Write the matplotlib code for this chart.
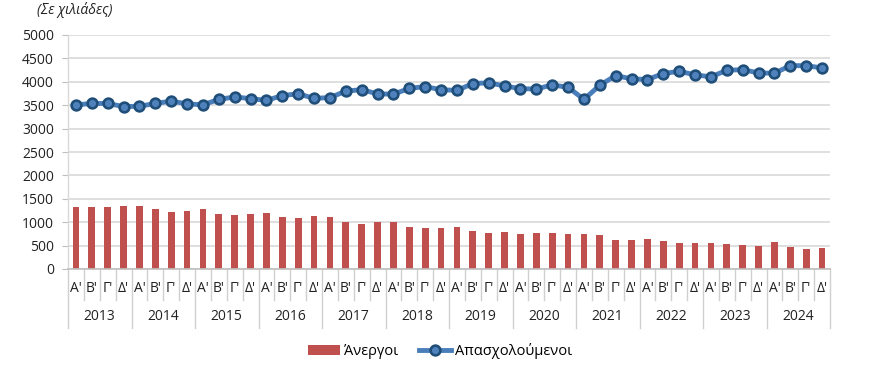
import matplotlib
matplotlib.use("Agg")
import matplotlib.pyplot as plt
from matplotlib.patches import Patch
from matplotlib.lines import Line2D

years = ["2013", "2014", "2015", "2016", "2017", "2018",
         "2019", "2020", "2021", "2022", "2023", "2024"]
quarters = ["Α'", "Β'", "Γ'", "Δ'"]

unemployed = [1332, 1332, 1332, 1346, 1346, 1275, 1225, 1246,
              1275, 1175, 1154, 1175, 1197, 1104, 1090, 1125,
              1110, 1011, 969, 1004, 1004, 905, 869, 876,
              905, 805, 776, 783, 748, 769, 762, 755,
              748, 726, 612, 620, 648, 591, 556, 556,
              548, 534, 513, 491, 577, 470, 427, 449]

employed = [3507, 3537, 3537, 3471, 3478, 3537, 3588, 3529,
            3507, 3625, 3676, 3640, 3603, 3706, 3743, 3647,
            3662, 3801, 3831, 3743, 3735, 3860, 3897, 3831,
            3816, 3963, 3978, 3912, 3853, 3846, 3934, 3882,
            3625, 3926, 4134, 4063, 4049, 4176, 4225, 4148,
            4106, 4246, 4260, 4190, 4183, 4345, 4345, 4296]

yticks = list(range(0, 5001, 500))

plt.rcParams['font.family'] = ['Open Sans', 'DejaVu Sans']

fig = plt.figure(figsize=(8.69, 3.86), dpi=100)
ax = fig.add_axes([68/869, 1-269/386, (830-68)/869, (269-35)/386])

n = len(unemployed)
x = list(range(n))
bar_color = '#C0504D'
line_color = '#4A7EBB'

ax.bar(x, unemployed, width=0.42, color=bar_color, zorder=2)
ax.plot(x, employed, color=line_color, lw=3.5, marker='o', markersize=7,
        markerfacecolor='#4F81BD', markeredgecolor='#1F4E79',
        markeredgewidth=1.9, zorder=3)

ax.set_xlim(-0.5, n - 0.5)
ax.set_ylim(0, 5000)
ax.set_yticks(yticks)
ax.set_yticklabels([str(v) for v in yticks], fontsize=10, color='#222222')
ax.yaxis.grid(True, color='#D9D9D9', lw=1.2)
ax.set_axisbelow(True)
ax.tick_params(axis='y', length=4, color='#BFBFBF', pad=6)

for s in ['top', 'right']:
    ax.spines[s].set_visible(False)
ax.spines['left'].set_color('#D9D9D9')
ax.spines['bottom'].set_color('#BFBFBF')
ax.spines['left'].set_linewidth(1.0)
ax.spines['bottom'].set_linewidth(1.2)

ax.set_xticks([])
tr = ax.get_xaxis_transform()
axh = 269 - 35
q_y = -(289 - 269) / axh
yr_y = -(317 - 269) / axh
q_sep = -(300 - 269) / axh
y_sep = -(328 - 269) / axh

for i in range(n):
    ax.text(i, q_y, quarters[i % 4], transform=tr, ha='center', va='center',
            fontsize=10, color='#222222')
for k in range(n + 1):
    bottom = y_sep if k % 4 == 0 else q_sep
    ax.plot([k - 0.5, k - 0.5], [0, bottom], transform=tr, color='#D0D0D0',
            lw=1.0, clip_on=False)
for j, yr in enumerate(years):
    ax.text(4 * j + 1.5, yr_y, yr, transform=tr, ha='center', va='center',
            fontsize=10, color='#222222')

fig.text(37/869, 1 - 10/386, "(Σε χιλιάδες)", fontsize=10, style='italic',
         ha='left', va='center', color='#222222')

handles = [Patch(facecolor=bar_color, edgecolor='none'),
           Line2D([0], [0], color=line_color, lw=3.5, marker='o', markersize=7,
                  markerfacecolor='#4F81BD', markeredgecolor='#1F4E79',
                  markeredgewidth=1.9)]
fig.legend(handles, ["Άνεργοι", "Απασχολούμενοι"], loc='center',
           bbox_to_anchor=(440/869, 1 - 351/386), ncol=2, frameon=False,
           fontsize=10.5, handlelength=2.2, handleheight=0.7,
           columnspacing=1.4, handletextpad=0.3)

fig.savefig("out.png", dpi=100)
